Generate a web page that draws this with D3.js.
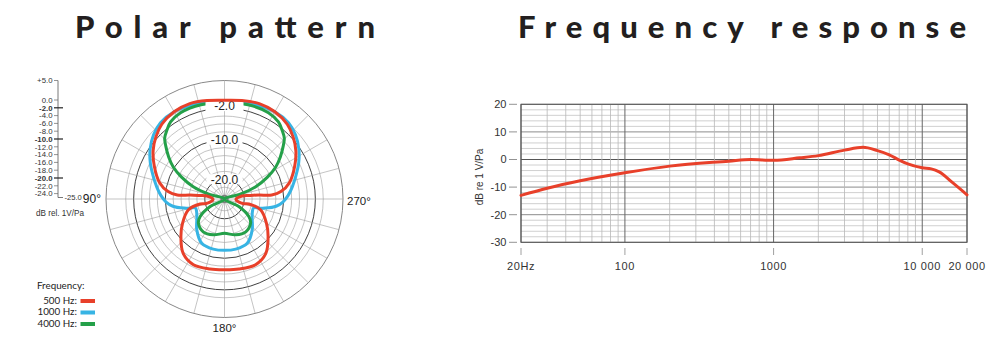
<!DOCTYPE html>
<html>
<head>
<meta charset="utf-8">
<script src="https://cdn.jsdelivr.net/npm/d3@7/dist/d3.min.js"></script>
<style>
  body { margin: 0; background: #fff; }
  svg { display: block; }
</style>
</head>
<body>
<svg id="chart" width="1000" height="351"></svg>
<script>
// ---------- Polar pattern data: [angle in degrees (counter-clockwise from front), level in dB] ----------
const pattern500 = [
  [0, 0.0], [10, 0.3], [20, 0.7], [30, 0.5], [40, -0.3], [48, -1.6], [56, -3.2], [65, -5.4],
  [75.7, -8.0], [82.5, -10.6], [85.2, -13.0], [83.4, -16.2], [81.9, -18.7], [80.3, -20.5],
  [92.5, -22.1], [103.7, -20.2], [101.5, -18.7], [106.9, -15.4], [120.2, -12.7], [130.9, -10.4],
  [142.8, -7.7], [154.7, -6.6], [168.3, -6.9], [180, -7.1],
  [191.7, -6.9], [205.3, -6.6], [217.2, -7.7], [229.1, -10.4], [239.8, -12.7], [253.1, -15.4],
  [258.5, -18.7], [256.3, -20.2], [267.5, -22.1], [279.7, -20.5], [278.1, -18.7], [276.6, -16.2],
  [274.8, -13.0], [277.5, -10.6], [284.3, -8.0], [295, -5.4], [304, -3.2], [312, -1.6], [320, -0.3],
  [330, 0.5], [340, 0.7], [350, 0.3]
];
const pattern1000 = [
  [0, -0.2], [15, 0.1], [30, 0.5], [40, 0.2], [48, -0.8], [56, -2.3], [64, -4.1], [72, -6.0],
  [80, -7.6], [87, -8.9], [93, -10.2], [98, -11.8], [102.7, -14.5], [105, -16.1], [107, -17.3],
  [113, -17.3], [124.6, -16.5], [138.1, -14.5], [152.8, -12.4], [167.4, -12.0], [180, -12.0],
  [192.6, -12.0], [207.2, -12.4], [221.9, -14.5], [235.4, -16.5], [247, -17.3], [253, -17.3],
  [255, -16.1], [257.3, -14.5], [262, -11.8], [267, -10.2], [273, -8.9], [280, -7.6], [288, -6.0],
  [296, -4.1], [304, -2.3], [312, -0.8], [320, 0.2], [330, 0.5], [345, 0.1]
];
const pattern4000 = [
  [0, -0.7], [14, -0.4], [27, -0.5], [35, -1.2], [40, -2.3], [44.5, -3.4], [48, -5.0], [53, -7.3],
  [58, -9.7], [63, -12.8], [68.5, -16.5], [73, -21.0], [90, -25.0],
  [118, -20.8], [125.8, -17.4], [132.8, -16.0], [147, -15.1], [162.7, -15.5], [180, -16.3],
  [197.3, -15.5], [213, -15.1], [227.2, -16.0], [234.2, -17.4], [242, -20.8], [270, -25.0],
  [287, -21.0], [291.5, -16.5], [297, -12.8], [302, -9.7], [307, -7.3], [312, -5.0], [315.5, -3.4],
  [320, -2.3], [325, -1.2], [333, -0.5], [346, -0.4]
];

const series500 = { name: "500 Hz:", color: "#e8402a", data: pattern500 };
const series1000 = { name: "1000 Hz:", color: "#37b4e4", data: pattern1000 };
const series4000 = { name: "4000 Hz:", color: "#24a049", data: pattern4000 };
const legendItems = [series500, series1000, series4000];

// Level scale beside the polar plot
const scaleValues = [5, 0, -2, -4, -6, -8, -10, -12, -14, -16, -18, -20, -22, -24];
const scaleLabels = ["+5.0", "0.0", "-2.0", "-4.0", "-6.0", "-8.0", "-10.0", "-12.0", "-14.0",
                     "-16.0", "-18.0", "-20.0", "-22.0", "-24.0"];
const boldLevels = [-2, -10, -20];
const ringLevels = [0, -2, -4, -6, -8, -10, -12, -14, -16, -18, -20, -22, -24];
const ringLabels = [[-2, "-2.0"], [-10, "-10.0"], [-20, "-20.0"]];
const angleLabels = [[90, "90°"], [180, "180°"], [270, "270°"]];

// ---------- Frequency response data ----------
const freqHz = [20, 30, 50, 100, 200, 500, 700, 1000, 1500, 2000, 3000, 4000, 5000, 6000,
                7000, 8000, 10000, 11500, 13000, 16000, 20000];
const responseDb = [-13.0, -10.4, -7.7, -4.8, -2.4, -0.6, 0.0, -0.3, 0.6, 1.4, 3.4, 4.4, 3.2, 1.7,
                    -0.2, -1.6, -3.0, -3.4, -4.5, -8.4, -12.8];
const dbTicks = [20, 10, 0, -10, -20, -30];
const freqTicks = [20, 100, 1000, 10000, 20000];
const freqTickLabels = ["20Hz", "100", "1000", "10 000", "20 000"];

const svg = d3.select("#chart");
const NUM_FONT = "'Liberation Sans', Arial, sans-serif";
const TEXT_FONT = "Lato, 'Open Sans', sans-serif";

// ---------- Titles ----------
svg.append("text").attr("x", 75).attr("y", 38)
  .attr("textLength", 300).attr("lengthAdjust", "spacing")
  .attr("font-family", TEXT_FONT).attr("font-weight", 900).attr("font-size", 31)
  .attr("fill", "#231f20").text("Polar pattern");
svg.append("text").attr("x", 518).attr("y", 38)
  .attr("textLength", 448).attr("lengthAdjust", "spacing")
  .attr("font-family", TEXT_FONT).attr("font-weight", 900).attr("font-size", 31)
  .attr("fill", "#231f20").text("Frequency response");

// ---------- Polar plot ----------
const cx = 224.5, cy = 199, R = 118.5;
const r = d3.scaleLinear().domain([-25, 5]).range([0, R]);
const polar = svg.append("g").attr("transform", `translate(${cx},${cy})`);

// rings
polar.selectAll("circle.ring").data(ringLevels).join("circle")
  .attr("class", "ring").attr("r", d => r(d)).attr("fill", "none")
  .attr("stroke", d => boldLevels.includes(d) ? "#2a2a2a" : "#9c9c9c")
  .attr("stroke-width", d => boldLevels.includes(d) ? 0.9 : 0.6);
polar.append("circle").attr("r", r(5)).attr("fill", "none")
  .attr("stroke", "#7a7a7a").attr("stroke-width", 0.9);

// spokes every 15 degrees
polar.selectAll("line.spoke").data(d3.range(0, 360, 15)).join("line")
  .attr("class", "spoke")
  .attr("x1", 0).attr("y1", 0)
  .attr("x2", d => -r(5) * Math.sin(d * Math.PI / 180))
  .attr("y2", d => -r(5) * Math.cos(d * Math.PI / 180))
  .attr("stroke", "#9c9c9c").attr("stroke-width", 0.6);

polar.append("circle").attr("r", 3.6).attr("fill", "#8d8d8d").attr("stroke", "#555").attr("stroke-width", 0.6);
polar.append("circle").attr("r", 1.4).attr("fill", "#333");

// response curves
const radial = d3.lineRadial()
  .angle(d => -d[0] * Math.PI / 180)
  .radius(d => r(d[1]))
  .curve(d3.curveCatmullRomClosed.alpha(0.5));
function drawPattern(s) {
  polar.append("path")
    .attr("d", radial(s.data))
    .attr("fill", "none").attr("stroke", s.color)
    .attr("stroke-width", 3).attr("stroke-linejoin", "round");
}
drawPattern(series1000);
drawPattern(series4000);

// ring labels along the front axis (knock out the rings behind them)
const ringLab = polar.selectAll("g.ringlab").data(ringLabels).join("g")
  .attr("class", "ringlab")
  .attr("transform", d => `translate(0,${-r(d[0]) + (d[0] === -2 ? -2 : 0)})`);
ringLab.append("rect").attr("x", d => d[0] === -2 ? -19 : -18).attr("y", -5)
  .attr("width", d => d[0] === -2 ? 38 : 36).attr("height", 10).attr("fill", "#fff");
ringLab.append("text").attr("text-anchor", "middle").attr("dy", "0.36em")
  .attr("font-family", NUM_FONT).attr("font-size", 12).attr("fill", "#222")
  .text(d => d[1]);

drawPattern(series500);

// angle labels
polar.selectAll("text.ang").data(angleLabels).join("text")
  .attr("class", "ang")
  .attr("x", d => d[0] === 90 ? -r(5) - 5 : d[0] === 270 ? r(5) + 4 : 0)
  .attr("y", d => d[0] === 180 ? r(5) + 10 : d[0] === 90 ? 0 : 2)
  .attr("text-anchor", d => d[0] === 90 ? "end" : d[0] === 270 ? "start" : "middle")
  .attr("dy", "0.36em")
  .attr("font-family", NUM_FONT).attr("font-size", d => d[0] === 90 ? 12 : 11.5)
  .attr("fill", "#222").text(d => d[1]);

// ---------- Level scale ----------
const ys = d3.scaleLinear().domain([-25, 5]).range([197.5, 80.5]);
const scaleX = 58;
const sg = svg.append("g");
sg.append("path")
  .attr("d", `M${scaleX},${ys(5)}V${ys(-25)}H${scaleX + 5}`)
  .attr("fill", "none").attr("stroke", "#555").attr("stroke-width", 0.8);
sg.selectAll("line.tk").data(scaleValues).join("line")
  .attr("class", "tk")
  .attr("x1", scaleX - 4)
  .attr("x2", d => boldLevels.includes(d) ? scaleX + 5 : scaleX)
  .attr("y1", d => ys(d)).attr("y2", d => ys(d))
  .attr("stroke", d => boldLevels.includes(d) ? "#222" : "#666")
  .attr("stroke-width", d => boldLevels.includes(d) ? 1.2 : 0.7);
sg.selectAll("text.tl").data(scaleValues).join("text")
  .attr("class", "tl")
  .attr("x", scaleX - 5.5).attr("y", d => ys(d)).attr("dy", "0.35em")
  .attr("text-anchor", "end")
  .attr("font-family", NUM_FONT).attr("font-size", 7.8)
  .attr("font-weight", d => boldLevels.includes(d) ? 700 : 400)
  .attr("fill", "#333")
  .text((d, i) => scaleLabels[i]);
sg.append("text").attr("x", scaleX + 6.5).attr("y", ys(-25)).attr("dy", "0.35em")
  .attr("font-family", NUM_FONT).attr("font-size", 7.6).attr("fill", "#333").text("-25.0");
sg.append("text").attr("x", 36).attr("y", 216)
  .attr("textLength", 48).attr("lengthAdjust", "spacingAndGlyphs")
  .attr("font-family", NUM_FONT).attr("font-size", 9).attr("fill", "#333").text("dB rel. 1V/Pa");

// ---------- Legend ----------
const lg = svg.append("g");
lg.append("text").attr("x", 37).attr("y", 289)
  .attr("font-family", TEXT_FONT).attr("font-size", 9.8).attr("fill", "#222").text("Frequency:");
const li = lg.selectAll("g.li").data(legendItems).join("g")
  .attr("class", "li").attr("transform", (d, i) => `translate(0,${300.5 + i * 11.5})`);
li.append("text").attr("x", 77).attr("dy", "0.35em").attr("text-anchor", "end")
  .attr("font-family", TEXT_FONT).attr("font-size", 9.8).attr("fill", "#222").text(d => d.name);
li.append("rect").attr("x", 80.5).attr("y", -1.5).attr("width", 14.5).attr("height", 4)
  .attr("fill", d => d.color);

// ---------- Frequency response plot ----------
const x = d3.scaleLog().domain([20, 20000]).range([521, 967]);
const y = d3.scaleLinear().domain([-30, 20]).range([242.3, 104.3]);
const fg = svg.append("g");

// horizontal grid every 2 dB
fg.selectAll("line.h").data(d3.range(-30, 21, 2)).join("line")
  .attr("class", "h")
  .attr("x1", x(20)).attr("x2", x(20000))
  .attr("y1", d => y(d)).attr("y2", d => y(d))
  .attr("stroke", d => d === 0 ? "#555" : (d % 10 === 0 ? "#8c8c8c" : "#c4c4c4"))
  .attr("stroke-width", d => d % 10 === 0 ? 1 : 0.8);

// vertical grid
const decades = [20, 100, 1000, 10000, 20000];
fg.selectAll("line.v").data(x.ticks()).join("line")
  .attr("class", "v")
  .attr("x1", d => x(d)).attr("x2", d => x(d))
  .attr("y1", y(20)).attr("y2", y(-30))
  .attr("stroke", d => decades.includes(d) ? "#666" : "#b8b8b8")
  .attr("stroke-width", d => decades.includes(d) ? 1 : 0.8);
fg.append("rect").attr("x", x(20)).attr("y", y(20))
  .attr("width", x(20000) - x(20)).attr("height", y(-30) - y(20))
  .attr("fill", "none").attr("stroke", "#555").attr("stroke-width", 1);

// y axis ticks and labels
fg.selectAll("line.yt").data(dbTicks).join("line")
  .attr("class", "yt")
  .attr("x1", 509).attr("x2", 517).attr("y1", d => y(d)).attr("y2", d => y(d))
  .attr("stroke", "#777").attr("stroke-width", 0.8);
fg.selectAll("text.yl").data(dbTicks).join("text")
  .attr("class", "yl")
  .attr("x", 506.5).attr("y", d => y(d)).attr("dy", "0.36em").attr("text-anchor", "end")
  .attr("font-family", NUM_FONT).attr("font-size", 11).attr("fill", "#333")
  .text(d => d);
fg.append("text")
  .attr("transform", "translate(483,177) rotate(-90)")
  .attr("text-anchor", "middle")
  .attr("font-family", NUM_FONT).attr("font-size", 10).attr("fill", "#333")
  .text("dB re 1 V/Pa");

// x axis ticks and labels
fg.selectAll("line.xt").data(freqTicks).join("line")
  .attr("class", "xt")
  .attr("x1", d => x(d)).attr("x2", d => x(d)).attr("y1", 248).attr("y2", 255)
  .attr("stroke", "#888").attr("stroke-width", 0.8);
fg.selectAll("text.xl").data(freqTicks).join("text")
  .attr("class", "xl")
  .attr("x", d => x(d)).attr("y", 270).attr("text-anchor", "middle")
  .attr("font-family", NUM_FONT).attr("font-size", 11).attr("letter-spacing", 0.6)
  .attr("fill", "#333")
  .text((d, i) => freqTickLabels[i]);

// response curve
const line = d3.line()
  .x((d, i) => x(freqHz[i]))
  .y(d => y(d))
  .curve(d3.curveMonotoneX);
fg.append("path").datum(responseDb)
  .attr("d", line)
  .attr("fill", "none").attr("stroke", "#e8402a").attr("stroke-width", 3)
  .attr("stroke-linecap", "round");
</script>
</body>
</html>
